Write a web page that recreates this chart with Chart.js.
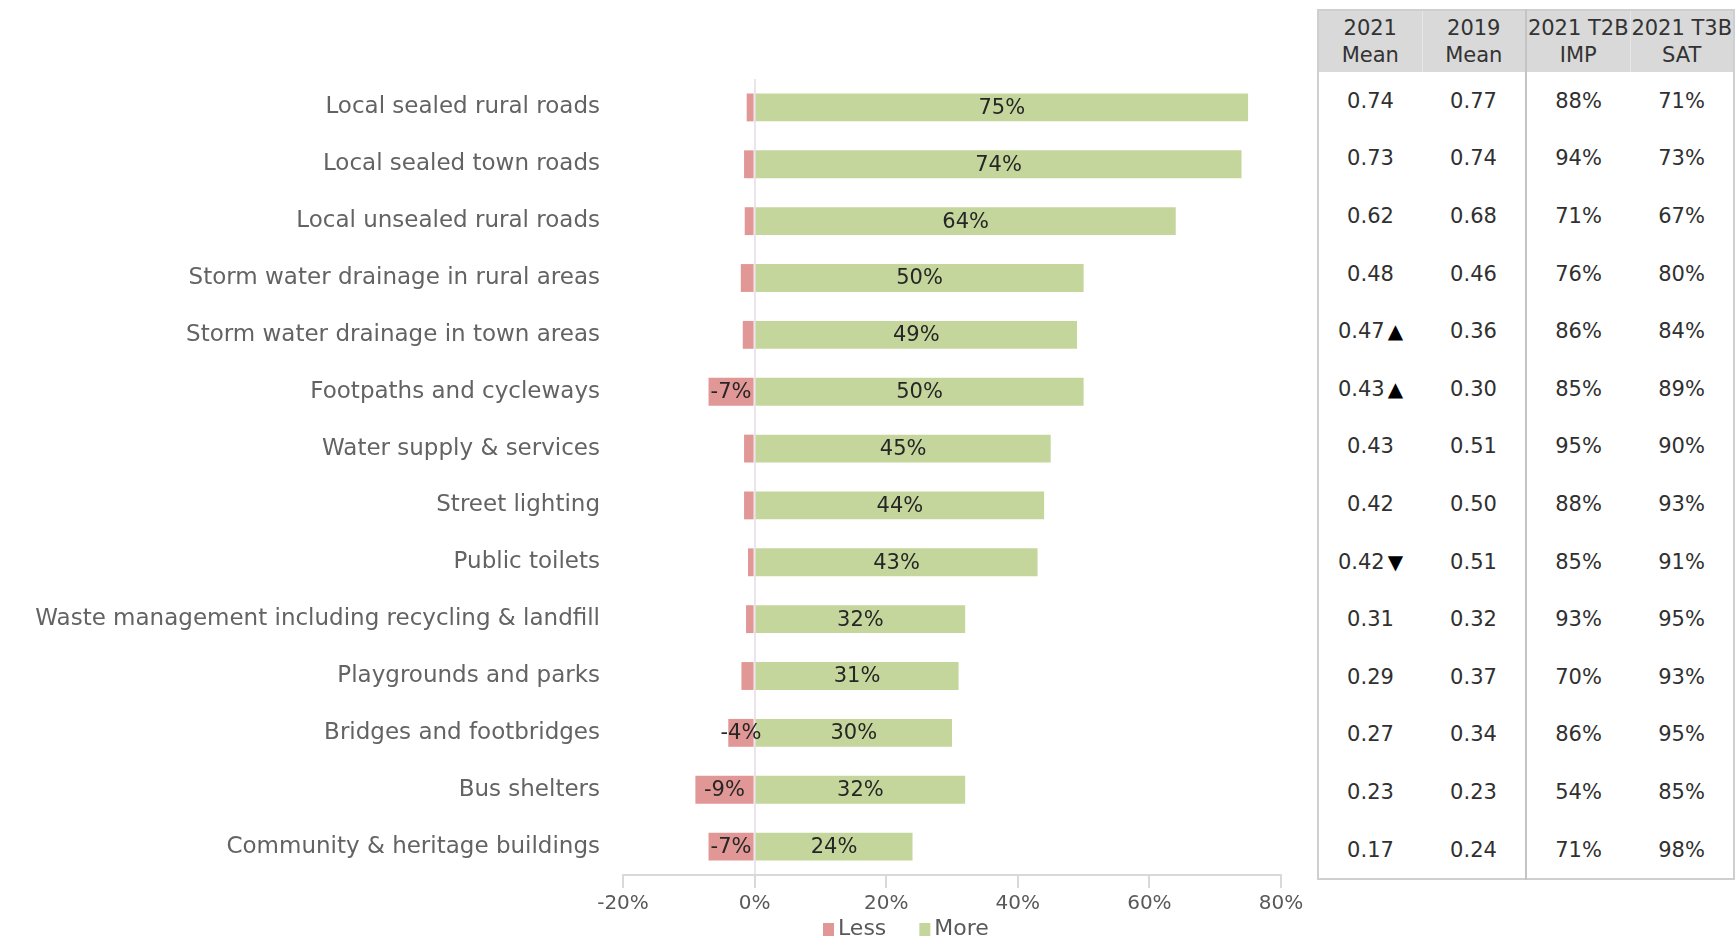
<!DOCTYPE html>
<html>
<head>
<meta charset="utf-8">
<script src="https://cdn.jsdelivr.net/npm/chart.js@4.4.1/dist/chart.umd.min.js"></script>
<style>
  body { margin: 0; background: #fff; font-family: "DejaVu Sans", sans-serif; }
  #wrap { position: relative; width: 1736px; height: 940px; overflow: hidden; }
  #diagram { position: absolute; left: 0; top: 0; }
  #scores {
    position: absolute; left: 1317px; top: 9px; width: 418px;
    border-collapse: collapse; table-layout: fixed;
    border: 2px solid #cfcfcf; color: #303030; font-size: 21px;
  }
  #scores th {
    background: #d9d9d9; font-weight: normal; height: 61px; padding: 0;
    line-height: 27px; color: #333; font-size: 21px;
  }
  #scores td { height: 57.6px; padding: 0; text-align: center; }
  #scores .split { border-left: 2px solid #c4c4c4; }
  #scores th.thin { border-left: 1px solid #e6e6e6; }
  #scores .mark { color: #000; font-size: 20px; margin-left: 3px; }
</style>
</head>
<body>
<div id="wrap">
  <canvas id="diagram" width="1310" height="940"></canvas>
  <table id="scores"><thead></thead><tbody></tbody></table>
</div>
<script>
const categories = [
  'Local sealed rural roads',
  'Local sealed town roads',
  'Local unsealed rural roads',
  'Storm water drainage in rural areas',
  'Storm water drainage in town areas',
  'Footpaths and cycleways',
  'Water supply & services',
  'Street lighting',
  'Public toilets',
  'Waste management including recycling & landfill',
  'Playgrounds and parks',
  'Bridges and footbridges',
  'Bus shelters',
  'Community & heritage buildings'
];
const lessValues = [-1.2, -1.6, -1.5, -2.1, -1.8, -7, -1.6, -1.6, -1, -1.3, -2, -4, -9, -7];
const moreValues = [75, 74, 64, 50, 49, 50, 45, 44, 43, 32, 31, 30, 32, 24];
const xTicks = [-20, 0, 20, 40, 60, 80];

// side table
const tableHeads = [['2021', 'Mean'], ['2019', 'Mean'], ['2021 T2B', 'IMP'], ['2021 T3B', 'SAT']];
const mean2021 = ['0.74', '0.73', '0.62', '0.48', '0.47', '0.43', '0.43', '0.42', '0.42', '0.31', '0.29', '0.27', '0.23', '0.17'];
const meanShift = ['', '', '', '', '▲', '▲', '', '', '▼', '', '', '', '', ''];
const mean2019 = ['0.77', '0.74', '0.68', '0.46', '0.36', '0.30', '0.51', '0.50', '0.51', '0.32', '0.37', '0.34', '0.23', '0.24'];
const t2bImp = [88, 94, 71, 76, 86, 85, 95, 88, 85, 93, 70, 86, 54, 71];
const t3bSat = [71, 73, 67, 80, 84, 89, 90, 93, 91, 95, 93, 95, 85, 98];

const lessColor = '#e09795';
const moreColor = '#c4d69c';
const fontFamily = '"DejaVu Sans", sans-serif';

// build the table
const head = document.querySelector('#scores thead');
head.innerHTML = '<tr>' + tableHeads.map((h, i) => {
  const cls = i === 2 ? 'split' : (i > 0 ? 'thin' : '');
  return '<th class="' + cls + '">' + h[0] + '<br>' + h[1] + '</th>';
}).join('') + '</tr>';
const body = document.querySelector('#scores tbody');
body.innerHTML = categories.map((c, i) => {
  const mark = meanShift[i] ? '<span class="mark">' + meanShift[i] + '</span>' : '';
  return '<tr><td>' + mean2021[i] + mark + '</td><td>' + mean2019[i] +
    '</td><td class="split">' + t2bImp[i] + '%</td><td>' + t3bSat[i] + '%</td></tr>';
}).join('');

// value labels inside the bars
const barLabels = {
  id: 'barLabels',
  afterDatasetsDraw(chart) {
    const ctx = chart.ctx;
    ctx.save();
    ctx.font = '21px ' + fontFamily;
    ctx.fillStyle = '#262626';
    ctx.textAlign = 'center';
    ctx.textBaseline = 'middle';
    chart.data.datasets.forEach((ds, di) => {
      chart.getDatasetMeta(di).data.forEach((bar, i) => {
        const v = ds.data[i];
        if (Math.abs(v) < 3) return;
        ctx.fillText(Math.round(v) + '%', (bar.x + bar.base) / 2, bar.y + 1);
      });
    });
    ctx.restore();
  }
};

// legend under the axis
const bottomLegend = {
  id: 'bottomLegend',
  afterDraw(chart) {
    const ctx = chart.ctx;
    ctx.save();
    ctx.font = '22px ' + fontFamily;
    ctx.textBaseline = 'middle';
    let x = 823;
    const y = 929;
    chart.data.datasets.forEach(ds => {
      ctx.fillStyle = ds.backgroundColor;
      ctx.fillRect(x, y - 6, 11, 13);
      ctx.fillStyle = '#595959';
      ctx.fillText(ds.label, x + 15, y);
      x += 15 + ctx.measureText(ds.label).width + 33;
    });
    ctx.restore();
  }
};

new Chart(document.getElementById('diagram').getContext('2d'), {
  type: 'bar',
  data: {
    labels: categories,
    datasets: [
      { label: 'Less', data: lessValues, backgroundColor: lessColor },
      { label: 'More', data: moreValues, backgroundColor: moreColor }
    ]
  },
  options: {
    indexAxis: 'y',
    responsive: false,
    animation: false,
    barPercentage: 0.49,
    categoryPercentage: 1,
    layout: { padding: { left: 10, right: 29, top: 79, bottom: 29 } },
    plugins: { legend: { display: false }, tooltip: { enabled: false } },
    scales: {
      x: {
        stacked: true,
        min: -20,
        max: 80,
        afterFit: s => { s.height = 36; },
        afterBuildTicks: s => { s.ticks = xTicks.map(v => ({ value: v })); },
        ticks: {
          callback: v => v + '%',
          color: '#595959',
          font: { family: fontFamily, size: 20 },
          padding: 4
        },
        grid: {
          color: c => (c.tick && c.tick.value === 0 ? '#ece4ec' : 'rgba(0,0,0,0)'),
          lineWidth: 2,
          tickColor: '#d9d9d9',
          tickLength: 13
        },
        border: { color: '#d9d9d9', width: 2 }
      },
      y: {
        stacked: true,
        afterFit: s => { s.width = 613; },
        ticks: {
          color: '#636363',
          font: { family: fontFamily, size: 23 },
          padding: 23
        },
        grid: { display: false, drawTicks: false },
        border: { display: false }
      }
    }
  },
  plugins: [barLabels, bottomLegend]
});
</script>
</body>
</html>
